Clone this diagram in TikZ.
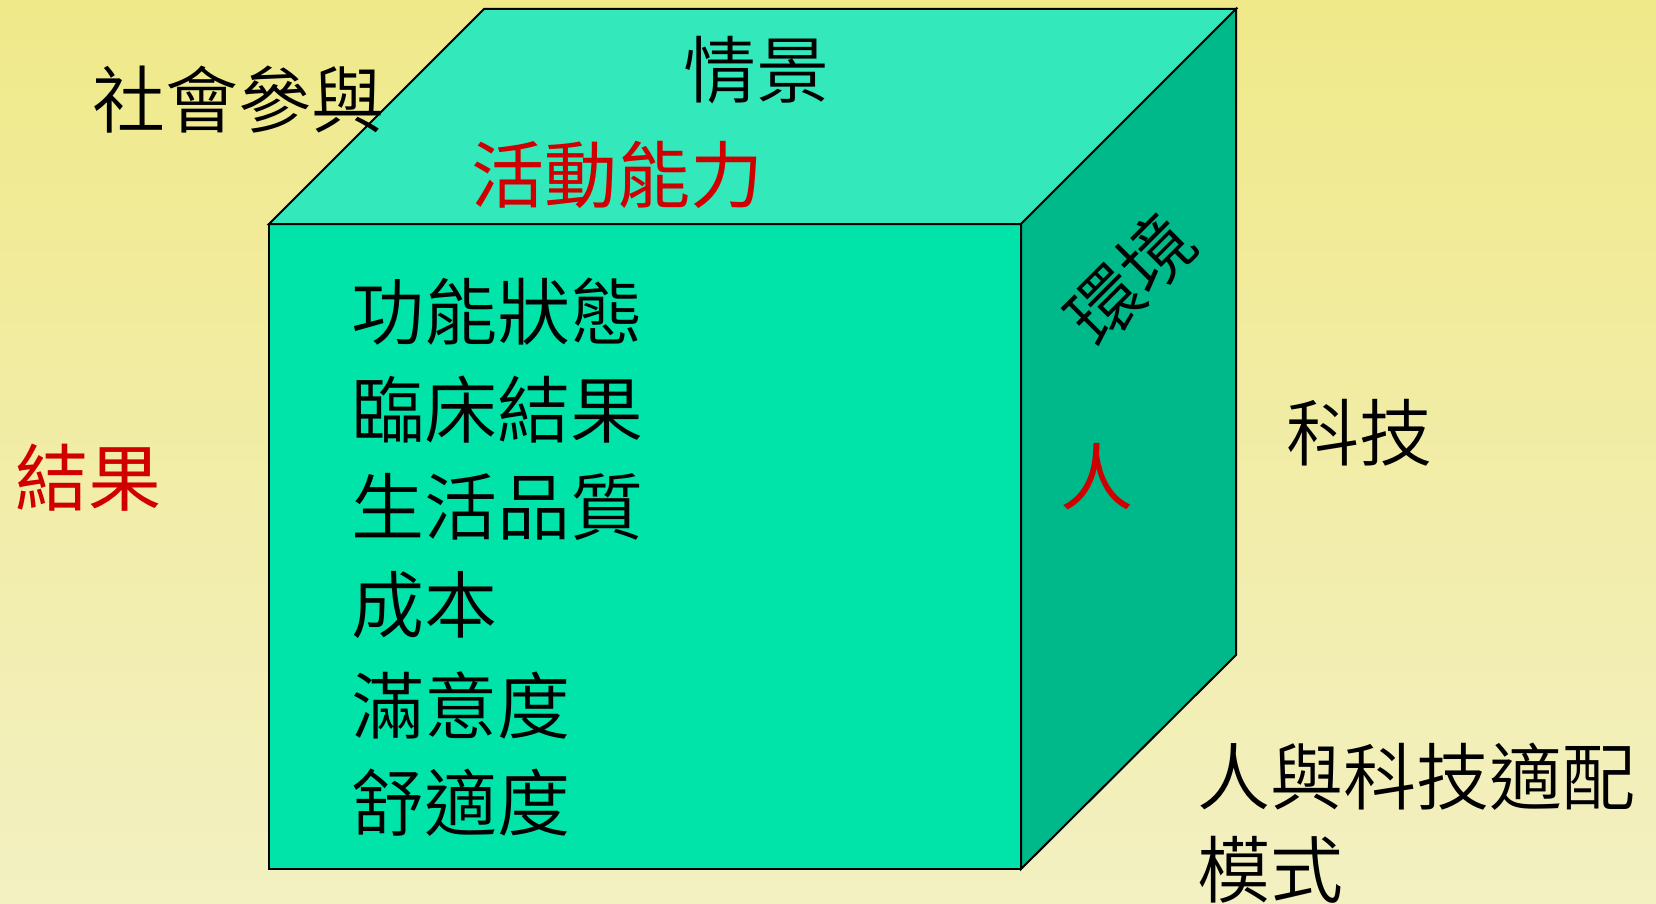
\documentclass[tikz,border=0pt]{standalone}
\usepackage{fontspec}
\newfontfamily\cjk{Noto Sans CJK TC}[UprightFont={* DemiLight}]
\newfontfamily\cjkred{Noto Sans CJK TC}
\usetikzlibrary{positioning}
\definecolor{bgtop}{RGB}{240,233,138}
\definecolor{bgbot}{RGB}{243,240,194}
\definecolor{front}{RGB}{0,227,169}
\definecolor{topface}{RGB}{51,233,188}
\definecolor{side}{RGB}{0,185,138}
\definecolor{redtxt}{RGB}{208,0,0}
\tikzset{
  lbl/.style={font=\cjk\fontsize{73}{98}\selectfont, inner sep=0pt},
  hot/.style={font=\cjkred\fontsize{73}{98}\selectfont, inner sep=0pt, text=redtxt},
  face/.style={draw=black, line width=2pt, line join=miter}
}

\begin{document}
\begin{tikzpicture}[x=1pt,y=-1pt]
      % background
      \shade[top color=bgtop, bottom color=bgbot] (0,0) rectangle (1656,904);
      \useasboundingbox (0,0) rectangle (1656,904);
      % cube corners
      \coordinate (ftl) at (269,224);
      \coordinate (ftr) at (1021,224);
      \coordinate (fbl) at (269,869);
      \coordinate (fbr) at (1021,869);
      \coordinate (btl) at (484,9);
      \coordinate (btr) at (1236,9);
      \coordinate (bbr) at (1236,655);
      % faces
      \filldraw[face, fill=front] (ftl) rectangle (fbr);
      \filldraw[face, fill=topface] (ftl) -- (btl) -- (btr) -- (ftr) -- cycle;
      \filldraw[face, fill=side] (ftr) -- (btr) -- (bbr) -- (fbr) -- cycle;
      % top face
      \node[lbl] (scene) at (756,70) {情景};
      \node[hot] (act) at (617,175) {活動能力};
      % front face
      \node[lbl, anchor=west] (fun) at (351,312) {功能狀態};
      \node[lbl, anchor=west] (cli) at (351,410) {臨床結果};
      \node[lbl, anchor=west] (qol) at (351,507) {生活品質};
      \node[lbl, anchor=west] (cost) at (351,605) {成本};
      \node[lbl, anchor=west] (sat) at (351,705) {滿意度};
      \node[lbl, anchor=west] (comf) at (351,803) {舒適度};
      % side face
      \node[lbl, rotate=45] (env) at (1130,279) {環境};
      \node[hot] (person) at (1097,477) {人};
      % outside
      \node[lbl, anchor=west] (soc) at (92,100) {社會參與};
      \node[hot, anchor=west] (out) at (15,478) {結果};
      \node[lbl, anchor=west] (tech) at (1286,433) {科技};
      \node[lbl, anchor=west] (fit) at (1197,777) {人與科技適配};
      \node[lbl, anchor=west] (model) at (1197,870) {模式};
\end{tikzpicture}
\end{document}
